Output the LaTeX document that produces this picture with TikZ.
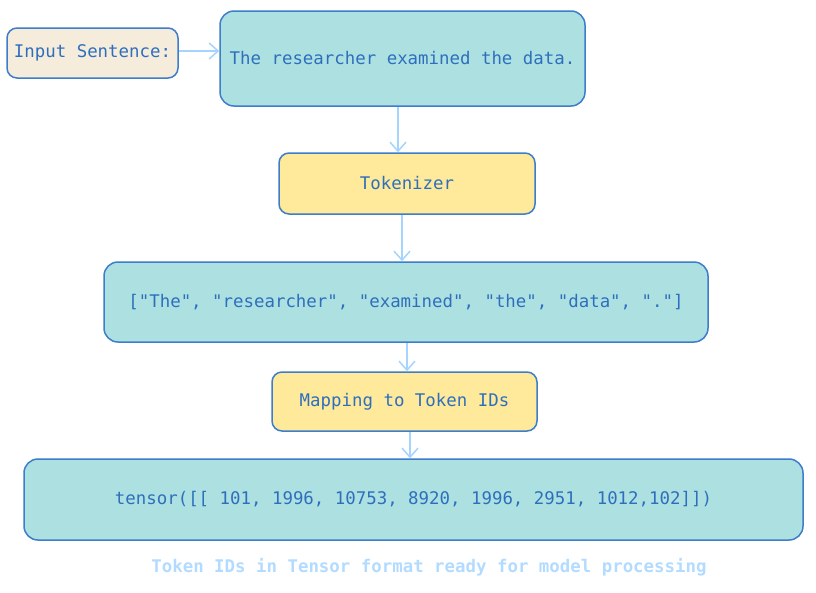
\documentclass[tikz,border=0pt]{standalone}
\usepackage{fontspec}
\setmonofont{DejaVu Sans Mono}
\usetikzlibrary{arrows.meta,calc}
\definecolor{beige}{HTML}{F6ECDC}
\definecolor{teal}{HTML}{ADE1E1}
\definecolor{yel}{HTML}{FFE99A}
\definecolor{bord}{HTML}{3D7DCA}
\definecolor{txt}{HTML}{2E6FBD}
\definecolor{arrc}{HTML}{A5D5FF}
\definecolor{capc}{HTML}{B2DBFF}
\tikzset{
  box/.style={draw=bord, line width=1.5pt, rounded corners=14pt, inner sep=0pt,
    text=txt, font=\ttfamily\fontsize{17.4}{20}\selectfont},
  smallbox/.style={box, rounded corners=10pt},
  arr/.style={draw=arrc, line width=1.5pt, -{Straight Barb[length=9pt,width=16pt,line width=1.5pt]}},
}
\begin{document}
\begin{tikzpicture}[x=1pt,y=-1pt]
\useasboundingbox (0,0) rectangle (816,592);
\node[smallbox, fill=beige, minimum width=171pt, minimum height=50pt] (inp) at (92.5,53) {Input Sentence:};
\node[box, fill=teal, minimum width=365pt, minimum height=95pt] (sent) at (402.5,58.5) {The researcher examined the data.};
\node[smallbox, fill=yel, minimum width=256pt, minimum height=61pt] (tok) at (407,183.5) {Tokenizer};
\node[box, fill=teal, minimum width=604pt, minimum height=80pt] (list) at (406,302) {["The", "researcher", "examined", "the", "data", "."]};
\node[smallbox, fill=yel, minimum width=265pt, minimum height=59pt] (map) at (404.5,401.5) {Mapping to Token IDs};
\node[box, fill=teal, minimum width=779pt, minimum height=81pt] (tens) at (413.5,499.5) {tensor([[ 101, 1996, 10753, 8920, 1996, 2951, 1012,102]])};
\node[text=capc, font=\ttfamily\bfseries\fontsize{17.4}{20}\selectfont] (cap) at (429,567) {Token IDs in Tensor format ready for model processing};
\draw[arr] ([yshift=2pt]inp.east) -- ([yshift=2pt]inp.east -| sent.west);
\draw[arr] ([xshift=-4.5pt]sent.south) -- ([xshift=-9pt]tok.north);
\draw[arr] ([xshift=-5pt]tok.south) -- ([xshift=-4pt]list.north);
\draw[arr] ([xshift=1pt]list.south) -- ([xshift=2.5pt]map.north);
\draw[arr] ([xshift=5.5pt]map.south) -- ([xshift=-3.5pt]tens.north);
\end{tikzpicture}
\end{document}
